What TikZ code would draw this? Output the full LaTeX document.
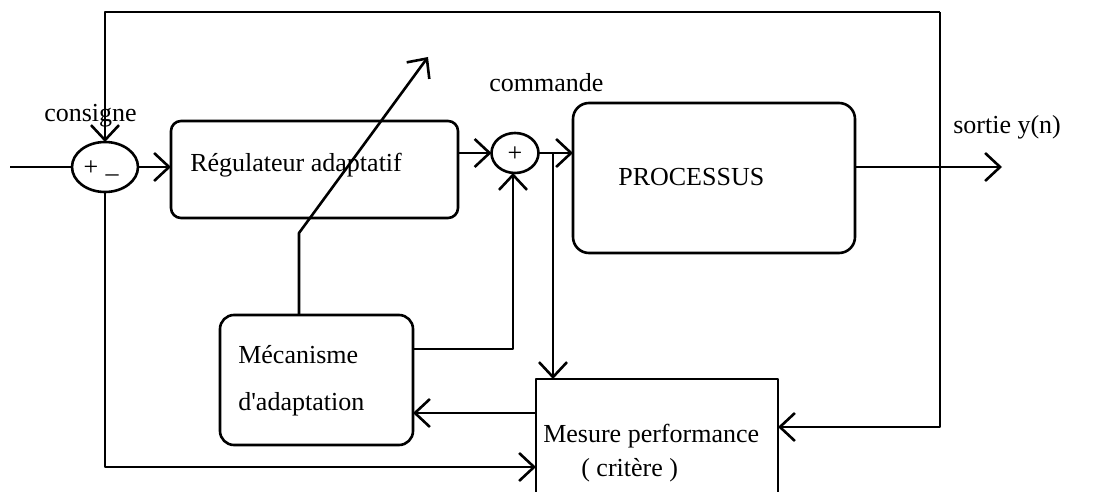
\documentclass[tikz,border=0pt]{standalone}
\usepackage{fontspec}
\setmainfont{Liberation Serif}[Ligatures=TeXOff]
\usetikzlibrary{arrows.meta,shapes.geometric}
\begin{document}
\begin{tikzpicture}[x=1pt,y=-1pt,
  line width=2.6pt, line join=round,
  >={Straight Barb[length=15pt,width=28pt]},
  box/.style={draw, rectangle, inner sep=0pt, outer sep=0pt},
  lbl/.style={inner sep=0pt, font=\fontsize{26}{30}\selectfont},
  sumnode/.style={draw, ellipse, inner sep=0pt, outer sep=0pt}]
\useasboundingbox (0,0) rectangle (1097,492);
\clip (0,0) rectangle (1097,492);

% blocks
\node[box, rounded corners=10pt, minimum width=287pt, minimum height=97pt] (reg) at (314.5,169.5) {};
\node[box, rounded corners=16pt, minimum width=282pt, minimum height=150pt] (proc) at (714,178) {};
\node[box, rounded corners=14pt, minimum width=193pt, minimum height=130pt] (mec) at (316.5,380) {};
\node[box, minimum width=242pt, minimum height=131pt] (mes) at (657,444.5) {};
\node[sumnode, minimum width=66pt, minimum height=50pt] (s1) at (105,167) {};
\node[sumnode, minimum width=47pt, minimum height=40pt] (s2) at (515,153) {};

% texts
\node[lbl, anchor=base west] (treg) at (189,171) {Régulateur adaptatif};
\node[lbl, anchor=base west] (tproc) at (617,185) {PROCESSUS};
\node[lbl, anchor=base west] (tmec1) at (237,363) {Mécanisme};
\node[lbl, anchor=base west] (tmec2) at (237,410) {d'adaptation};
\node[lbl, anchor=base west] (tmes1) at (542,442) {Mesure performance};
\node[lbl, anchor=base west] (tmes2) at (580,476) {( critère )};
\node[lbl, anchor=base west] (tcons) at (43,122) {consigne};
\node[lbl, anchor=base west] (tcom) at (488,92) {commande};
\node[lbl, anchor=base west] (tsort) at (952,133) {sortie y(n)};
\node[lbl] (p1) at (91,168) {+};
\node[lbl] (m1) at (112,178) {–};
\node[lbl] (p2) at (515,154) {+};

% coordinates
\coordinate (in) at (10,167);
\coordinate (tl) at (105,12);
\coordinate (tr) at (940,12);
\coordinate (rb) at (940,427);
\coordinate (bl) at (105,467);
\coordinate (br) at (553,153);
\coordinate (mr) at (513,349);
\coordinate (ml) at (413,349);
\coordinate (fb) at (536,413);
\coordinate (k) at (299,233);
\coordinate (ktip) at (428,57);
\coordinate (out) at (1002,167);

% connectors
\draw (in) -- (s1.west);
\draw[->] (s1.east) -- (reg.west |- s1.east);
\draw[->] (reg.east |- s2.west) -- (s2.west);
\draw[->] (s2.east) -- (proc.west |- s2.east);
\draw[->] (br) -- (br |- mes.north);
\draw[->] (ml) -- (mr) -- (mr |- s2.south);
\draw[->] (k |- mec.north) -- (k) -- (ktip);
\draw[->] (fb) -- (mec.east |- fb);
\draw[->] (tr) -- (tl) -- (s1.north);
\draw[->] (tr) -- (rb) -- (mes.east |- rb);
\draw[->] (s1.south) -- (bl) -- (mes.west |- bl);
\draw[->] (proc.east |- out) -- (out);
\end{tikzpicture}
\end{document}
